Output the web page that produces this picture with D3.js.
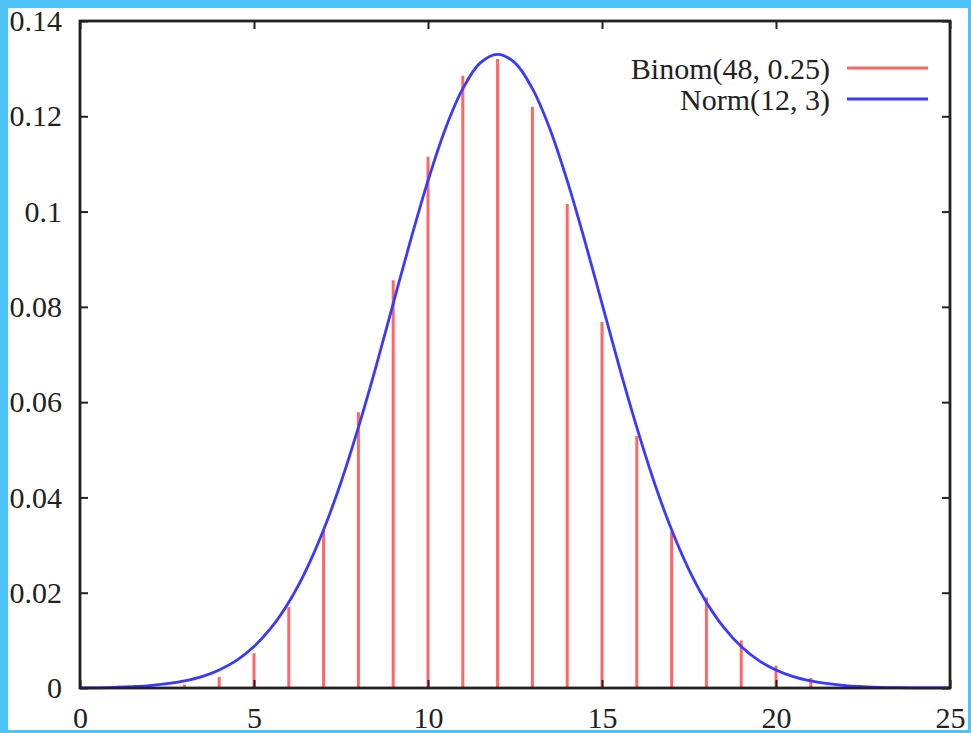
<!DOCTYPE html>
<html><head><meta charset="utf-8">
<script src="https://cdn.jsdelivr.net/npm/d3@7/dist/d3.min.js"></script>
<style>html,body{margin:0;padding:0;background:#4dc3f8;}svg{display:block;}</style>
</head><body>
<script>
// Binom(48, 0.25) bar heights
const binomK = [3,4,5,6,7,8,9,10,11,12,13,14,15,16,17,18,19,20,21,22];
const binomP = [0.0007,0.0023,0.0073,0.0170,0.0332,0.0579,0.0856,0.1115,0.1285,0.1320,0.1220,0.1016,0.0768,0.0529,0.0328,0.0190,0.0100,0.0047,0.0021,0.0007];
// Norm(12, 3) curve
const normX = [0,0.5,1,1.5,2,2.5,3,3.5,4,4.5,5,5.5,6,6.5,7,7.5,8,8.5,9,9.5,10,10.5,11,11.5,12,12.5,13,13.5,14,14.5,15,15.5,16,16.5,17,17.5,18,18.5,19,19.5,20,20.5,21,21.5,22,22.5,23,23.5,24,24.5,25];
const normY = [0.000015,0.00004,0.00015,0.0003,0.0005,0.0009,0.0015,0.0024,0.0038,0.0058,0.0087,0.0127,0.0180,0.0248,0.0332,0.0432,0.0547,0.0673,0.0807,0.0940,0.1065,0.1174,0.1258,0.1312,0.1330,0.1312,0.1258,0.1174,0.1065,0.0940,0.0807,0.0673,0.0547,0.0432,0.0332,0.0248,0.0180,0.0127,0.0087,0.0058,0.0038,0.0024,0.0015,0.0009,0.0005,0.0003,0.00015,0.00008,0.00004,0.00002,0.00001];
const xTicks = [0,5,10,15,20,25];
const yTicks = [0,0.02,0.04,0.06,0.08,0.1,0.12,0.14];
const yTickLabels = ["0","0.02","0.04","0.06","0.08","0.1","0.12","0.14"];
const legendLabels = ["Binom(48, 0.25)","Norm(12, 3)"];

const W = 971, H = 733;
const svg = d3.select("body").append("svg").attr("width",W).attr("height",H);
svg.append("rect").attr("x",8).attr("y",8).attr("width",960).attr("height",722).attr("fill","#fff");

const m = {l:80, r:950, t:21, b:688};
const x = d3.scaleLinear().domain([0,25]).range([m.l,m.r]);
const y = d3.scaleLinear().domain([0,0.14]).range([m.b,m.t]);
const font = "Liberation Serif, Times New Roman, serif";

const g = svg.append("g");

// bars
g.selectAll("line.bar").data(binomK.map((k,i)=>({k,p:binomP[i]}))).enter().append("line")
  .attr("x1",d=>x(d.k)).attr("x2",d=>x(d.k)).attr("y1",y(0)).attr("y2",d=>y(d.p))
  .attr("stroke","#ff6666").attr("stroke-width",3);

// curve
const pts = normX.map((v,i)=>[v,normY[i]]);
g.append("path").datum(pts)
  .attr("d",d3.line().x(d=>x(d[0])).y(d=>y(d[1])).curve(d3.curveCatmullRom))
  .attr("fill","none").attr("stroke","#3a3aff").attr("stroke-width",2.8);

// axes
function styleAxis(sel){
  sel.select(".domain").remove();
  sel.selectAll(".tick line").attr("stroke","#222").attr("stroke-width",2);
  sel.selectAll("text").attr("fill","#222").style("font-family",font).style("font-size","30px");
}
svg.append("g").attr("transform",`translate(0,${m.b})`)
  .call(d3.axisBottom(x).tickValues(xTicks).tickSize(-8).tickPadding(19).tickFormat(d3.format("d"))).call(styleAxis);
svg.append("g").attr("transform",`translate(0,${m.t})`)
  .call(d3.axisTop(x).tickValues(xTicks).tickSize(-8).tickFormat("")).call(styleAxis);
svg.append("g").attr("transform",`translate(${m.l},0)`)
  .call(d3.axisLeft(y).tickValues(yTicks).tickSize(-8).tickPadding(18).tickFormat((d,i)=>yTickLabels[i])).call(styleAxis);
svg.append("g").attr("transform",`translate(${m.r},0)`)
  .call(d3.axisRight(y).tickValues(yTicks).tickSize(-8).tickFormat("")).call(styleAxis);

// frame
svg.append("rect").attr("x",m.l).attr("y",m.t).attr("width",m.r-m.l).attr("height",m.b-m.t)
  .attr("fill","none").attr("stroke","#222").attr("stroke-width",2.8);

// legend
const legColors = ["#ff6666","#3a3aff"];
const leg = svg.append("g");
legendLabels.forEach((lab,i)=>{
  const yy = 68 + i*31;
  leg.append("text").attr("x",830).attr("y",yy).attr("dy","0.35em").attr("text-anchor","end")
    .style("font-family",font).style("font-size","30px").attr("fill","#222").text(lab);
  leg.append("line").attr("x1",847).attr("x2",928).attr("y1",yy).attr("y2",yy)
    .attr("stroke",legColors[i]).attr("stroke-width",i===0?3:2.8);
});

// blue border on top
const bc = "#4dc3f8";
svg.append("rect").attr("x",0).attr("y",0).attr("width",W).attr("height",8).attr("fill",bc);
svg.append("rect").attr("x",0).attr("y",0).attr("width",8).attr("height",H).attr("fill",bc);
svg.append("rect").attr("x",968).attr("y",0).attr("width",3).attr("height",H).attr("fill",bc);
svg.append("rect").attr("x",0).attr("y",730).attr("width",W).attr("height",3).attr("fill",bc);
</script>
</body></html>
